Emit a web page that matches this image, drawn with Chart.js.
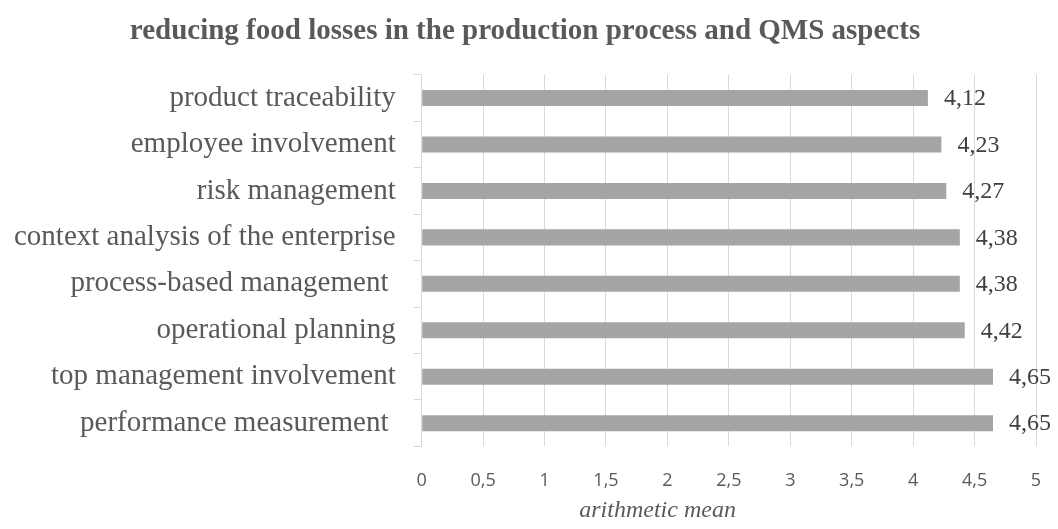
<!DOCTYPE html>
<html>
<head>
<meta charset="utf-8">
<script src="https://cdn.jsdelivr.net/npm/chart.js"></script>
<style>
  html, body { margin: 0; padding: 0; background: #fff; overflow: hidden; }
  #wrap { width: 1058px; height: 529px; }
</style>
</head>
<body>
<div id="wrap"><canvas id="myChart"></canvas></div>
<script>
  var aspects = [
    "product traceability",
    "employee involvement",
    "risk management",
    "context analysis of the enterprise",
    "process-based management ",
    "operational planning",
    "top management involvement",
    "performance measurement "
  ];
  var meanValues = [4.12, 4.23, 4.27, 4.38, 4.38, 4.42, 4.65, 4.65];
  var xTicks = [0, 0.5, 1, 1.5, 2, 2.5, 3, 3.5, 4, 4.5, 5];
  var xCaption = "arithmetic mean";

  function commaNum(v, digits) {
    var s = digits == null ? String(v) : v.toFixed(digits);
    return s.replace('.', ',');
  }

  // value written to the right of each bar
  var barValues = {
    id: 'barValues',
    afterDatasetsDraw: function (chart) {
      var ctx = chart.ctx;
      var meta = chart.getDatasetMeta(0);
      ctx.save();
      ctx.font = '24px "Liberation Serif"';
      ctx.fillStyle = '#404040';
      ctx.textAlign = 'left';
      ctx.textBaseline = 'middle';
      meta.data.forEach(function (bar, i) {
        ctx.fillText(commaNum(meanValues[i], 2), bar.x + 16, bar.y + 1);
      });
      ctx.restore();
    }
  };

  // axis caption sits left of the axis centre, like the original sheet
  var axisCaption = {
    id: 'axisCaption',
    afterDraw: function (chart) {
      var ctx = chart.ctx;
      var area = chart.chartArea;
      ctx.save();
      ctx.font = 'italic 24px "Liberation Serif"';
      ctx.fillStyle = '#595959';
      ctx.textAlign = 'center';
      ctx.textBaseline = 'alphabetic';
      ctx.fillText(xCaption, area.left + (area.right - area.left) * 0.384, chart.height - 12);
      ctx.restore();
    }
  };

  new Chart("myChart", {
    type: "bar",
    data: {
      labels: aspects,
      datasets: [{
        data: meanValues,
        backgroundColor: '#a5a5a5',
        barPercentage: 0.69,
        categoryPercentage: 0.5
      }]
    },
    options: {
      indexAxis: 'y',
      responsive: true,
      maintainAspectRatio: false,
      animation: false,
      layout: { padding: { left: 14, right: 22, bottom: 37 } },
      plugins: {
        legend: { display: false },
        tooltip: { enabled: false },
        title: {
          display: true,
          text: 'reducing food losses in the production process and QMS aspects',
          color: '#595959',
          font: { family: '"Liberation Serif"', size: 29, weight: 'bold' },
          padding: { top: 14, bottom: 26 }
        }
      },
      scales: {
        x: {
          min: 0,
          max: 5,
          afterBuildTicks: function (axis) {
            axis.ticks = xTicks.map(function (v) { return { value: v }; });
          },
          // tick padding is reserved twice by default, keep it once
          afterFit: function (s) {
            s.height -= s.options.ticks.padding;
            s.paddingLeft = 0;
            s.paddingRight = 0;
          },
          grid: { color: '#d9d9d9', drawTicks: false },
          border: { display: false },
          ticks: {
            color: '#595959',
            padding: 24,
            maxRotation: 0,
            font: { family: '"Open Sans"', size: 18 },
            callback: function (v) { return commaNum(v); }
          }
        },
        y: {
          afterFit: function (s) {
            s.width -= s.options.ticks.padding;
          },
          grid: { drawOnChartArea: false, color: '#d9d9d9', tickLength: 8 },
          border: { display: true, color: '#d9d9d9' },
          ticks: {
            color: '#595959',
            padding: 18,
            font: { family: '"Liberation Serif"', size: 29 }
          }
        }
      }
    },
    plugins: [barValues, axisCaption]
  });
</script>
</body>
</html>
